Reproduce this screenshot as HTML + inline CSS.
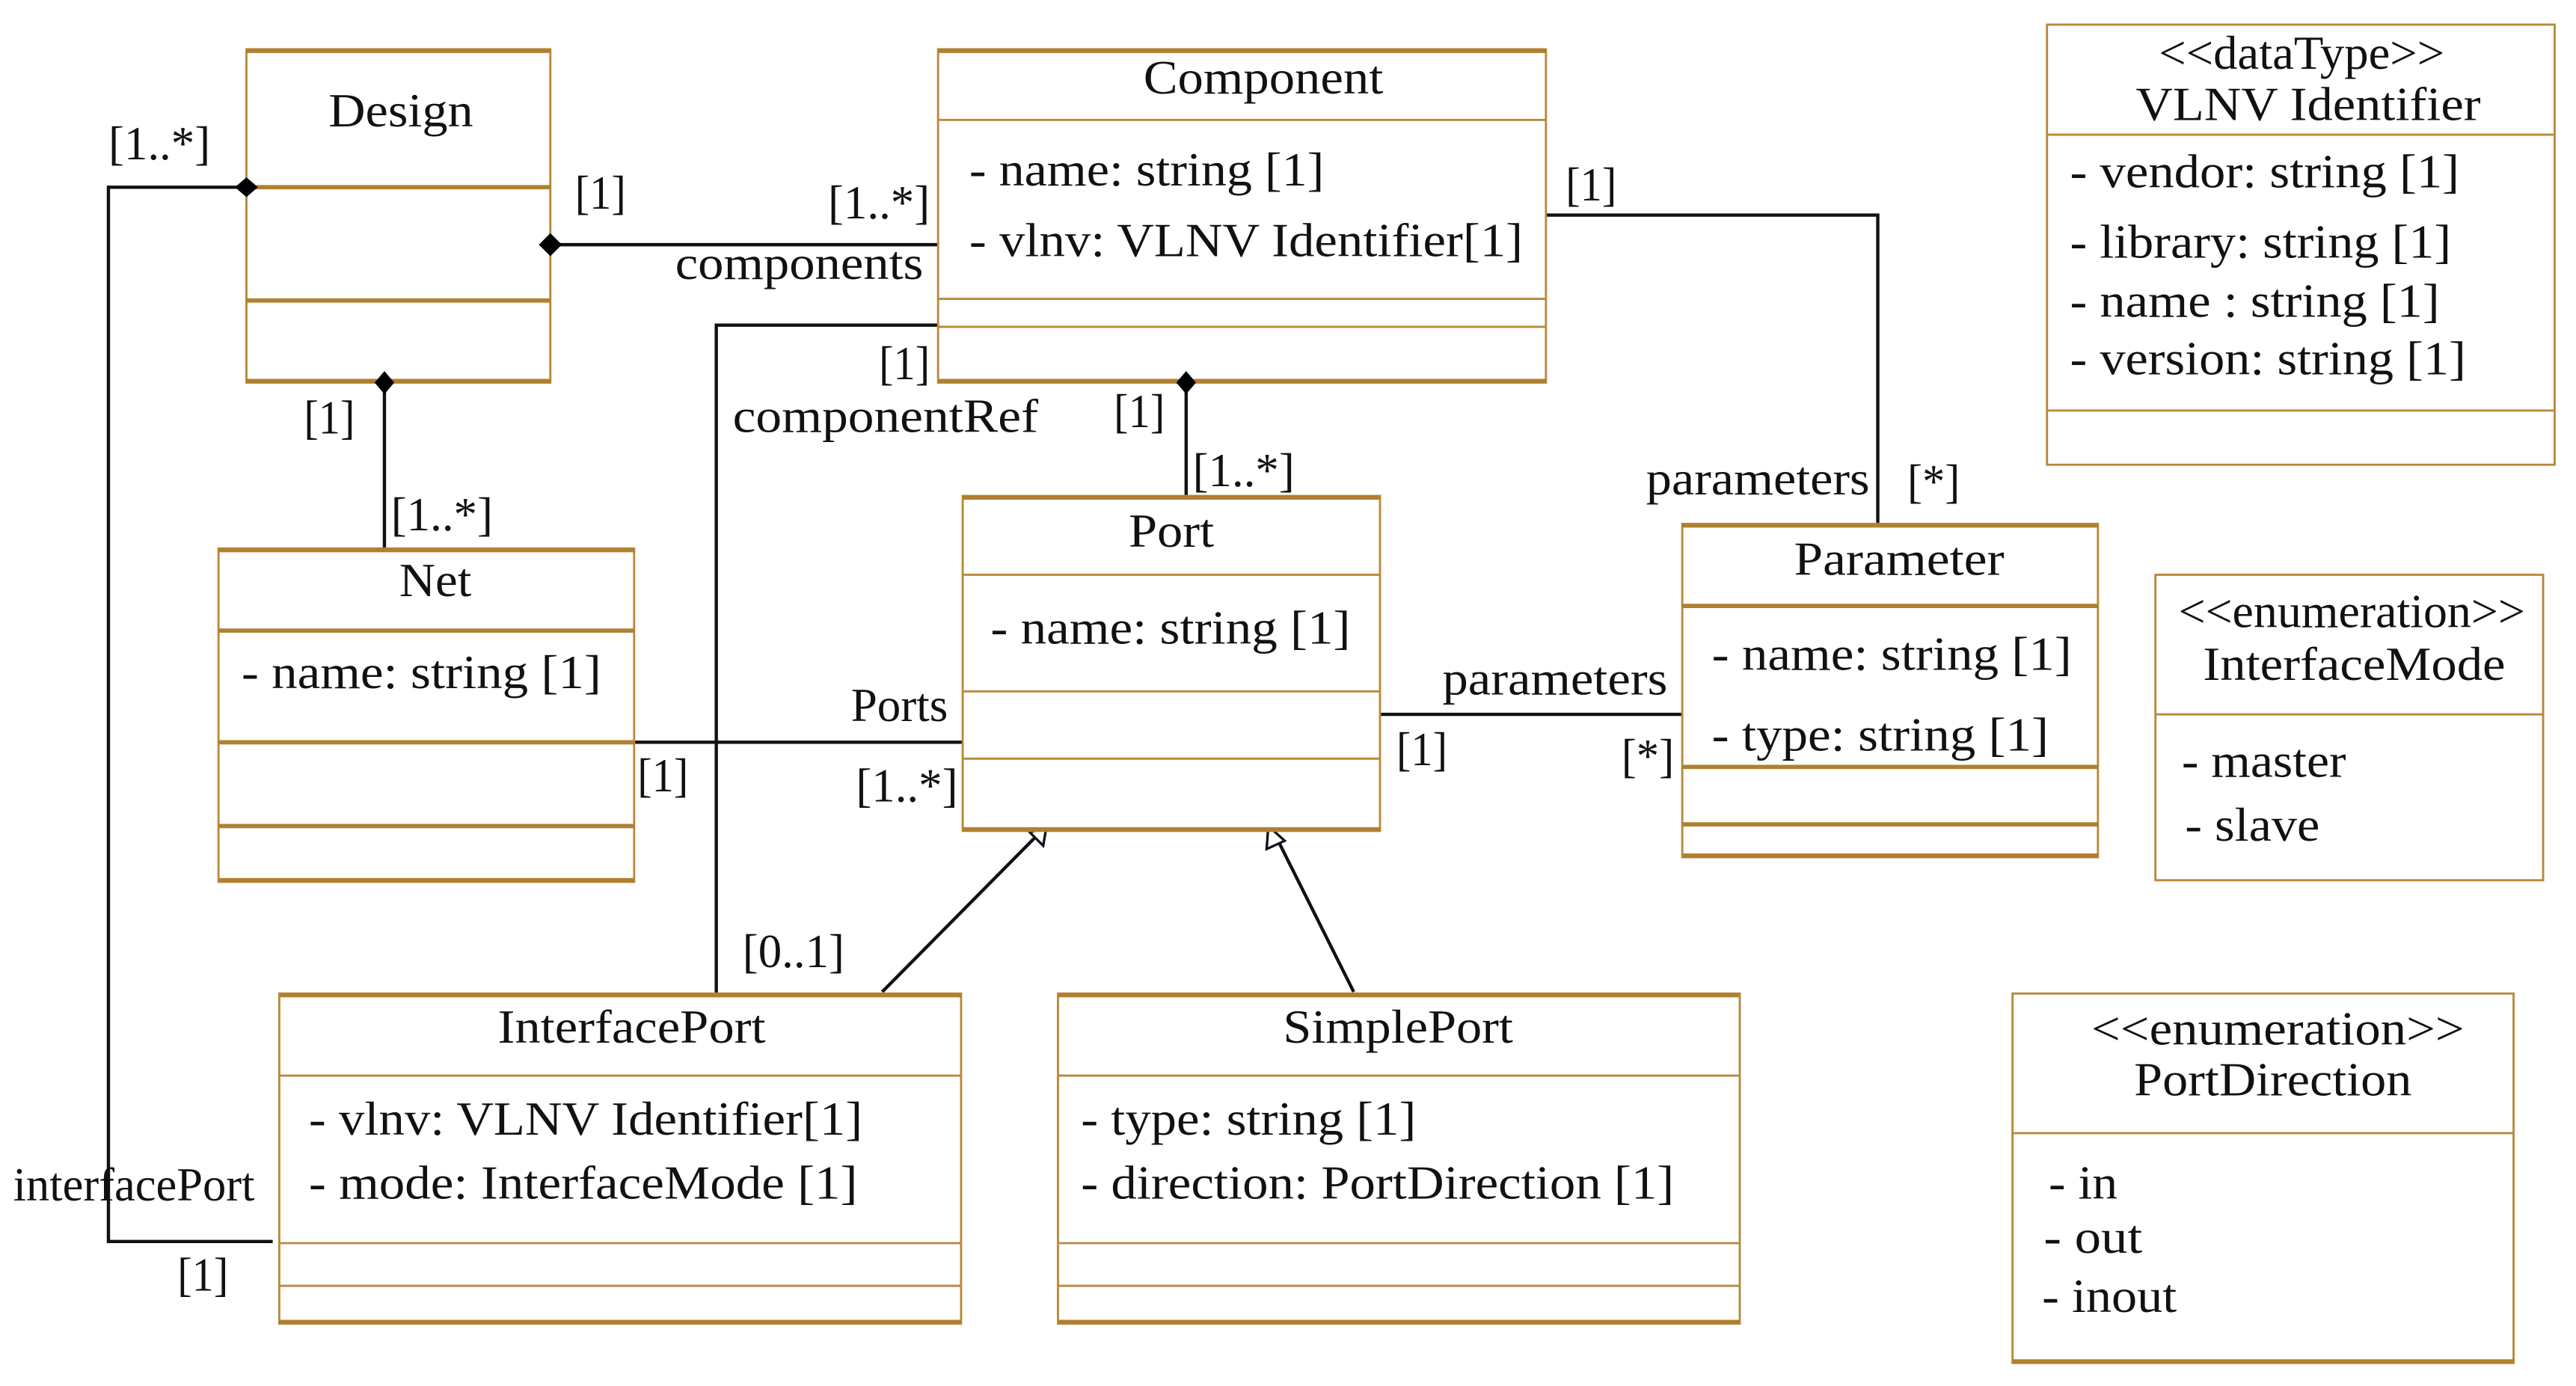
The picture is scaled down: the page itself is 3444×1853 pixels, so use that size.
<!DOCTYPE html>
<html><head><meta charset="utf-8"><style>
html,body{margin:0;padding:0;background:#fff;}
svg{display:block;}
text{font-family:"Liberation Serif",serif;font-size:29px;fill:#111;}
.b{fill:#fff;stroke:#b8893a;stroke-width:1.3;}
.h{stroke:#b08030;stroke-width:2.6;}
.l{stroke:#b8893a;stroke-width:1.3;}
.c{stroke:#111;stroke-width:2;fill:none;}
</style></head><body>
<svg width="3444" height="1853" viewBox="0 0 1568 844" preserveAspectRatio="none" xmlns="http://www.w3.org/2000/svg">
<!-- connectors -->
<polyline class="c" points="150,114 66,114 66,756 166,756"/>
<line class="c" x1="335" y1="149" x2="571" y2="149" stroke-width="3"/>
<polyline class="c" points="571,198 436,198 436,605"/>
<line class="c" x1="234" y1="233" x2="234" y2="334"/>
<line class="c" x1="722" y1="233" x2="722" y2="302"/>
<polyline class="c" points="941,131 1143,131 1143,319"/>
<line class="c" x1="386" y1="452" x2="586" y2="452" stroke-width="2.5"/>
<line class="c" x1="840" y1="435" x2="1024" y2="435" stroke-width="3.5"/>
<line class="c" x1="537" y1="604" x2="630" y2="510" stroke-width="1.5"/>
<line class="c" x1="824" y1="604" x2="777" y2="510" stroke-width="1.5"/>
<!-- triangles -->
<polygon points="637,503 627,507 635,515" fill="#fff" stroke="#111" stroke-width="1.5"/>
<polygon points="772,503 771,517 782,512" fill="#fff" stroke="#111" stroke-width="1.5"/>

<!-- Design -->
<rect class="b" x="150" y="30" width="185" height="203"/>
<line class="h" x1="150" y1="31" x2="335" y2="31"/><line class="h" x1="150" y1="114" x2="335" y2="114"/>
<line class="h" x1="150" y1="183" x2="335" y2="183"/><line class="h" x1="150" y1="232" x2="335" y2="232"/>
<text x="200" y="77" textLength="88" lengthAdjust="spacingAndGlyphs">Design</text>

<!-- Component -->
<rect class="b" x="571" y="30" width="370" height="203"/>
<line class="h" x1="571" y1="31" x2="941" y2="31"/><line class="l" x1="571" y1="73" x2="941" y2="73"/>
<line class="l" x1="571" y1="182" x2="941" y2="182"/><line class="l" x1="571" y1="199" x2="941" y2="199"/>
<line class="h" x1="571" y1="232" x2="941" y2="232"/>
<text x="696" y="57" textLength="146" lengthAdjust="spacingAndGlyphs">Component</text>
<text x="590" y="113" textLength="216" lengthAdjust="spacingAndGlyphs">- name: string [1]</text>
<text x="590" y="156" textLength="337" lengthAdjust="spacingAndGlyphs">- vlnv: VLNV Identifier[1]</text>

<!-- VLNV -->
<rect class="b" x="1246" y="15" width="309" height="268"/>
<line class="l" x1="1246" y1="82" x2="1555" y2="82"/><line class="l" x1="1246" y1="250" x2="1555" y2="250"/>
<text x="1314" y="42" textLength="174" lengthAdjust="spacingAndGlyphs">&lt;&lt;dataType&gt;&gt;</text>
<text x="1300" y="73" textLength="210" lengthAdjust="spacingAndGlyphs">VLNV Identifier</text>
<text x="1260" y="114" textLength="237" lengthAdjust="spacingAndGlyphs">- vendor: string [1]</text>
<text x="1260" y="157" textLength="232" lengthAdjust="spacingAndGlyphs">- library: string [1]</text>
<text x="1260" y="193" textLength="225" lengthAdjust="spacingAndGlyphs">- name : string [1]</text>
<text x="1260" y="228" textLength="241" lengthAdjust="spacingAndGlyphs">- version: string [1]</text>

<!-- Net -->
<rect class="b" x="133" y="334" width="253" height="203"/>
<line class="h" x1="133" y1="335" x2="386" y2="335"/><line class="h" x1="133" y1="384" x2="386" y2="384"/>
<line class="h" x1="133" y1="452" x2="386" y2="452"/><line class="h" x1="133" y1="503" x2="386" y2="503"/>
<line class="h" x1="133" y1="536" x2="386" y2="536"/>
<text x="243" y="363" textLength="44" lengthAdjust="spacingAndGlyphs">Net</text>
<text x="147" y="419" textLength="219" lengthAdjust="spacingAndGlyphs">- name: string [1]</text>

<!-- Port -->
<rect class="b" x="586" y="302" width="254" height="204"/>
<line class="h" x1="586" y1="303" x2="840" y2="303"/><line class="l" x1="586" y1="350" x2="840" y2="350"/>
<line class="l" x1="586" y1="421" x2="840" y2="421"/><line class="l" x1="586" y1="462" x2="840" y2="462"/>
<line class="h" x1="586" y1="505" x2="840" y2="505"/>
<text x="687" y="333" textLength="52" lengthAdjust="spacingAndGlyphs">Port</text>
<text x="603" y="392" textLength="219" lengthAdjust="spacingAndGlyphs">- name: string [1]</text>

<!-- Parameter -->
<rect class="b" x="1024" y="319" width="253" height="203"/>
<line class="h" x1="1024" y1="320" x2="1277" y2="320"/><line class="h" x1="1024" y1="369" x2="1277" y2="369"/>
<line class="h" x1="1024" y1="467" x2="1277" y2="467"/><line class="h" x1="1024" y1="502" x2="1277" y2="502"/>
<line class="h" x1="1024" y1="521" x2="1277" y2="521"/>
<text x="1092" y="350" textLength="128" lengthAdjust="spacingAndGlyphs">Parameter</text>
<text x="1042" y="408" textLength="219" lengthAdjust="spacingAndGlyphs">- name: string [1]</text>
<text x="1042" y="457" textLength="205" lengthAdjust="spacingAndGlyphs">- type: string [1]</text>

<!-- InterfaceMode -->
<rect class="b" x="1312" y="350" width="236" height="186"/>
<line class="l" x1="1312" y1="435" x2="1548" y2="435"/>
<text x="1326" y="382" textLength="211" lengthAdjust="spacingAndGlyphs">&lt;&lt;enumeration&gt;&gt;</text>
<text x="1341" y="414" textLength="184" lengthAdjust="spacingAndGlyphs">InterfaceMode</text>
<text x="1328" y="473" textLength="100" lengthAdjust="spacingAndGlyphs">- master</text>
<text x="1330" y="512" textLength="82" lengthAdjust="spacingAndGlyphs">- slave</text>

<!-- InterfacePort -->
<rect class="b" x="170" y="605" width="415" height="201"/>
<line class="h" x1="170" y1="606" x2="585" y2="606"/><line class="l" x1="170" y1="655" x2="585" y2="655"/>
<line class="l" x1="170" y1="757" x2="585" y2="757"/><line class="l" x1="170" y1="783" x2="585" y2="783"/>
<line class="h" x1="170" y1="805" x2="585" y2="805"/>
<text x="303" y="635" textLength="163" lengthAdjust="spacingAndGlyphs">InterfacePort</text>
<text x="188" y="691" textLength="337" lengthAdjust="spacingAndGlyphs">- vlnv: VLNV Identifier[1]</text>
<text x="188" y="730" textLength="334" lengthAdjust="spacingAndGlyphs">- mode: InterfaceMode [1]</text>

<!-- SimplePort -->
<rect class="b" x="644" y="605" width="415" height="201"/>
<line class="h" x1="644" y1="606" x2="1059" y2="606"/><line class="l" x1="644" y1="655" x2="1059" y2="655"/>
<line class="l" x1="644" y1="757" x2="1059" y2="757"/><line class="l" x1="644" y1="783" x2="1059" y2="783"/>
<line class="h" x1="644" y1="805" x2="1059" y2="805"/>
<text x="781" y="635" textLength="140" lengthAdjust="spacingAndGlyphs">SimplePort</text>
<text x="658" y="691" textLength="204" lengthAdjust="spacingAndGlyphs">- type: string [1]</text>
<text x="658" y="730" textLength="361" lengthAdjust="spacingAndGlyphs">- direction: PortDirection [1]</text>

<!-- PortDirection -->
<rect class="b" x="1225" y="605" width="305" height="225"/>
<line class="l" x1="1225" y1="690" x2="1530" y2="690"/>
<line class="h" x1="1225" y1="829" x2="1530" y2="829"/>
<text x="1273" y="636" textLength="227" lengthAdjust="spacingAndGlyphs">&lt;&lt;enumeration&gt;&gt;</text>
<text x="1299" y="667" textLength="169" lengthAdjust="spacingAndGlyphs">PortDirection</text>
<text x="1247" y="730" textLength="42" lengthAdjust="spacingAndGlyphs">- in</text>
<text x="1244" y="763" textLength="60" lengthAdjust="spacingAndGlyphs">- out</text>
<text x="1243" y="799" textLength="82" lengthAdjust="spacingAndGlyphs">- inout</text>

<!-- diamonds (on top of boxes) -->
<polygon points="143,114 150,108 157,114 150,120" fill="#000"/>
<polygon points="328,149 335,142 342,149 335,156" fill="#000"/>
<polygon points="234,226 240,233 234,240 228,233" fill="#000"/>
<polygon points="722,226 728,233 722,240 716,233" fill="#000"/>

<!-- labels -->
<text x="66" y="97" textLength="62" lengthAdjust="spacingAndGlyphs">[1..*]</text>
<text x="8" y="731" textLength="147" lengthAdjust="spacingAndGlyphs">interfacePort</text>
<text x="108" y="786" textLength="31" lengthAdjust="spacingAndGlyphs">[1]</text>
<text x="350" y="127" textLength="31" lengthAdjust="spacingAndGlyphs">[1]</text>
<text x="504" y="133" textLength="62" lengthAdjust="spacingAndGlyphs">[1..*]</text>
<text x="411" y="170" textLength="151" lengthAdjust="spacingAndGlyphs">components</text>
<text x="535" y="231" textLength="31" lengthAdjust="spacingAndGlyphs">[1]</text>
<text x="446" y="263" textLength="186" lengthAdjust="spacingAndGlyphs">componentRef</text>
<text x="452" y="589" textLength="62" lengthAdjust="spacingAndGlyphs">[0..1]</text>
<text x="185" y="264" textLength="31" lengthAdjust="spacingAndGlyphs">[1]</text>
<text x="238" y="323" textLength="62" lengthAdjust="spacingAndGlyphs">[1..*]</text>
<text x="678" y="260" textLength="31" lengthAdjust="spacingAndGlyphs">[1]</text>
<text x="726" y="296" textLength="62" lengthAdjust="spacingAndGlyphs">[1..*]</text>
<text x="953" y="122" textLength="31" lengthAdjust="spacingAndGlyphs">[1]</text>
<text x="1002" y="301" textLength="136" lengthAdjust="spacingAndGlyphs">parameters</text>
<text x="1161" y="303" textLength="32" lengthAdjust="spacingAndGlyphs">[*]</text>
<text x="518" y="439" textLength="59" lengthAdjust="spacingAndGlyphs">Ports</text>
<text x="388" y="482" textLength="31" lengthAdjust="spacingAndGlyphs">[1]</text>
<text x="521" y="488" textLength="62" lengthAdjust="spacingAndGlyphs">[1..*]</text>
<text x="878" y="423" textLength="137" lengthAdjust="spacingAndGlyphs">parameters</text>
<text x="850" y="466" textLength="31" lengthAdjust="spacingAndGlyphs">[1]</text>
<text x="987" y="470" textLength="32" lengthAdjust="spacingAndGlyphs">[*]</text>
</svg>
</body></html>
